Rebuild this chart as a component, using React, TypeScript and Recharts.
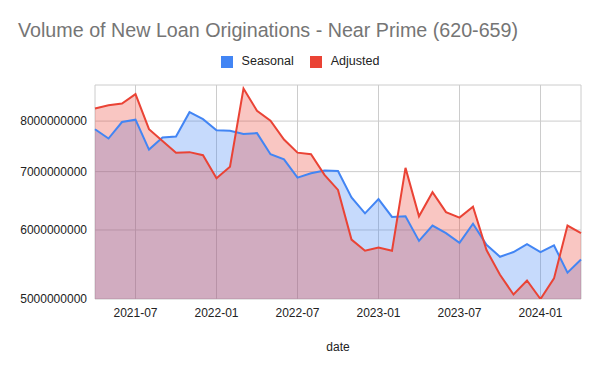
import {
  ComposedChart,
  Area,
  Line,
  XAxis,
  YAxis,
  CartesianGrid,
} from "recharts";

const months = [
  "2021-04", "2021-05", "2021-06", "2021-07", "2021-08", "2021-09",
  "2021-10", "2021-11", "2021-12", "2022-01", "2022-02", "2022-03",
  "2022-04", "2022-05", "2022-06", "2022-07", "2022-08", "2022-09",
  "2022-10", "2022-11", "2022-12", "2023-01", "2023-02", "2023-03",
  "2023-04", "2023-05", "2023-06", "2023-07", "2023-08", "2023-09",
  "2023-10", "2023-11", "2023-12", "2024-01", "2024-02", "2024-03",
  "2024-04",
];

// values in billions
const seasonal = [
  7.83, 7.64, 7.98, 8.03, 7.42, 7.66, 7.68, 8.19, 8.04, 7.81, 7.8, 7.73,
  7.75, 7.33, 7.23, 6.89, 6.97, 7.02, 7.01, 6.54, 6.27, 6.51, 6.21, 6.22,
  5.83, 6.07, 5.95, 5.8, 6.1, 5.77, 5.59, 5.66, 5.78, 5.66, 5.76, 5.36,
  5.55,
];

const adjusted = [
  8.27, 8.34, 8.38, 8.59, 7.83, 7.59, 7.36, 7.37, 7.31, 6.88, 7.09, 8.72,
  8.22, 8.01, 7.62, 7.36, 7.33, 6.94, 6.67, 5.85, 5.68, 5.73, 5.68, 7.07,
  6.22, 6.63, 6.29, 6.2, 6.38, 5.69, 5.33, 5.06, 5.25, 5.0, 5.28, 6.07,
  5.95,
];

const xTicks = ["2021-07", "2022-01", "2022-07", "2023-01", "2023-07", "2024-01"];
const yTicks = [5000000000, 6000000000, 7000000000, 8000000000];

const BLUE = "#4285F4";
const RED = "#EA4335";
const FONT = "Arial, 'Liberation Sans', sans-serif";

const data = months.map((date, i) => ({
  date,
  Seasonal: seasonal[i] * 1e9,
  Adjusted: adjusted[i] * 1e9,
}));

function LegendBox() {
  const items = [
    { name: "Seasonal", color: BLUE },
    { name: "Adjusted", color: RED },
  ];
  return (
    <div
      style={{
        position: "absolute",
        top: 54,
        left: 0,
        width: 600,
        display: "flex",
        justifyContent: "center",
        fontFamily: FONT,
        fontSize: 12.5,
        lineHeight: "15px",
        color: "#222",
      }}
    >
      {items.map((it, i) => (
        <div key={it.name} style={{ display: "flex", alignItems: "center", marginLeft: i ? 16 : 0 }}>
          <span style={{ width: 12, height: 12, background: it.color, display: "inline-block", marginRight: 9 }} />
          <span>{it.name}</span>
        </div>
      ))}
    </div>
  );
}

export default function App() {
  return (
    <div style={{ position: "absolute", left: 0, top: 0, width: 600, height: 371, background: "#fff" }}>
      <div
        style={{
          position: "absolute",
          left: 18,
          top: 19,
          fontFamily: FONT,
          fontSize: 19.7,
          color: "#757575",
          whiteSpace: "nowrap",
        }}
      >
        Volume of New Loan Originations - Near Prime (620-659)
      </div>
      <LegendBox />
      <ComposedChart
        width={600}
        height={371}
        data={data}
        margin={{ top: 85, right: 19, bottom: 22, left: 0 }}
      >
        <CartesianGrid stroke="#cccccc" vertical={true} horizontal={true} />
        <XAxis
          dataKey="date"
          ticks={xTicks}
          interval={0}
          tickLine={false}
          axisLine={false}
          tickSize={0}
          tickMargin={9}
          height={50}
          tick={{ fontSize: 12, fill: "#222", fontFamily: FONT }}
          label={{ value: "date", position: "insideBottom", offset: -2, fontSize: 12, fill: "#222", fontFamily: FONT }}
        />
        <YAxis
          scale="log"
          type="number"
          domain={[5000000000, 8800000000]}
          allowDataOverflow
          ticks={yTicks}
          width={95}
          tickLine={false}
          axisLine={false}
          tickSize={0}
          tickMargin={8}
          tick={{ fontSize: 12, fill: "#222", fontFamily: FONT }}
        />
        <Area
          dataKey="Seasonal"
          type="linear"
          stroke="none"
          fill={BLUE}
          fillOpacity={0.3}
          baseValue={5000000000}
          isAnimationActive={false}
          activeDot={false}
        />
        <Area
          dataKey="Adjusted"
          type="linear"
          stroke="none"
          fill={RED}
          fillOpacity={0.3}
          baseValue={5000000000}
          isAnimationActive={false}
          activeDot={false}
        />
        <Line
          dataKey="Seasonal"
          type="linear"
          stroke={BLUE}
          strokeWidth={2}
          dot={false}
          isAnimationActive={false}
        />
        <Line
          dataKey="Adjusted"
          type="linear"
          stroke={RED}
          strokeWidth={2}
          dot={false}
          isAnimationActive={false}
        />
      </ComposedChart>
    </div>
  );
}
